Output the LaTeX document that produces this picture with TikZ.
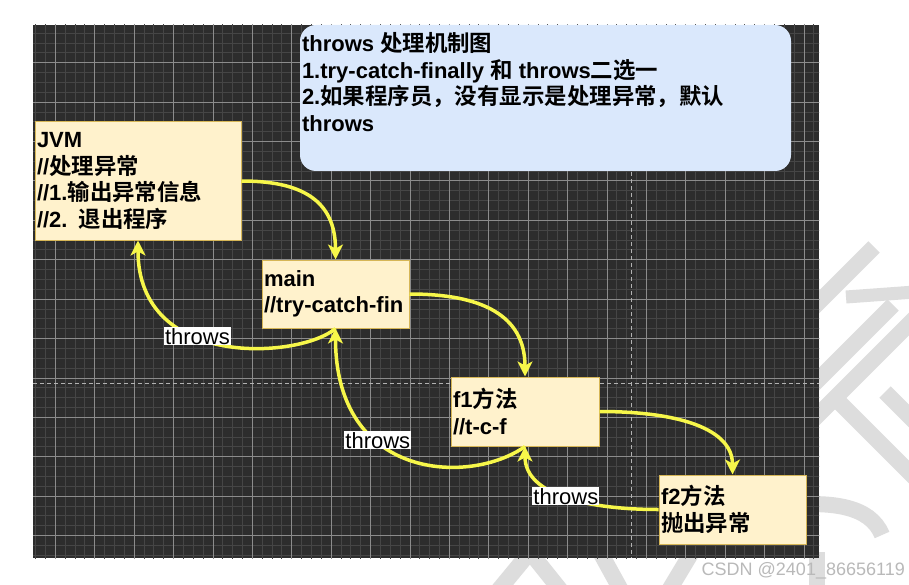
\documentclass[tikz,border=0pt]{standalone}
\usepackage{fontspec}
\setmainfont{Liberation Sans}
\newfontfamily\cjk{Noto Sans CJK SC}[BoldFont={Noto Sans CJK SC Bold},Scale=1.02]
\usetikzlibrary{arrows.meta,positioning,backgrounds}
\definecolor{boardbg}{HTML}{2D2D2D}
\definecolor{gridminor}{HTML}{464646}
\definecolor{gridmajor}{HTML}{8C8C8C}
\definecolor{notefill}{HTML}{DAE8FC}
\definecolor{boxfill}{HTML}{FFF2CC}
\definecolor{boxline}{HTML}{D6B656}
\definecolor{flowline}{HTML}{F7F74A}
\definecolor{wmark}{HTML}{DDDDDD}

\begin{document}
\begin{tikzpicture}[x=1pt,y=1pt,
    box/.style={draw=boxline,fill=boxfill,line width=1pt,align=left,inner xsep=2pt,inner ysep=0pt,
        font=\fontsize{22}{26.5}\selectfont\bfseries},
    note/.style={fill=notefill,rounded corners=16pt,minimum width=491pt,minimum height=146pt,inner sep=0pt},
    notetxt/.style={align=left,inner sep=0pt,font=\fontsize{22}{26.5}\selectfont\bfseries},
    flow/.style={flowline,line width=3.5pt,-{Stealth[length=15pt,width=15pt,inset=4pt]}},
    lbl/.style={fill=white,text=black,inner sep=1pt,font=\fontsize{22}{24}\selectfont},
    wm/.style={wmark,line width=16pt},
    pagebreak/.style={gray!60,line width=1pt,dash pattern=on 4pt off 3pt}]
    \useasboundingbox (0,0) rectangle (909,-585);
    \fill[white] (0,0) rectangle (909,-585);
    % watermark behind the board
    \draw[wm] (874,-247) -- (790,-331);
    \draw[wm,line width=13pt] (846,-297) -- (915,-292);
    \draw[wm] (893,-305) -- (790,-408);
    \draw[wm] (915,-318) -- (790,-443);
    \draw[wm] (835,-398) -- (915,-478);
    \draw[wm] (885,-392) -- (915,-422);
    \draw[wm] (790,-505) .. controls (830,-502) and (870,-505) .. (882,-535);
    \draw[wm] (497,-592) -- (530,-552) -- (562,-592);
    \draw[wm] (600,-552) -- (622,-592);
    \draw[wm] (692,-552) -- (668,-592);
    \draw[wm] (817,-552) -- (817,-592);
    % board and grid
    \fill[boardbg] (33,-25) rectangle (819,-558);
    \begin{scope}
        \clip (33,-25) rectangle (819,-558);
        \draw[gridminor,line width=0.8pt,shift={(55.3,-62.7)},step=9.85] (-40,50) grid (780,-510);
        \draw[gridmajor,line width=0.8pt,shift={(55.3,-62.7)},step=39.4] (-40,50) grid (780,-510);
        \draw[pagebreak] (33,-383) -- (819,-383);
        \draw[pagebreak] (631,-25) -- (631,-558);
    \end{scope}

    \node[note] (note) at (545.5,-98) {};
    \node[notetxt,anchor=north west] (notetext) at ([xshift=2pt,yshift=-7.5pt]note.north west)
        {throws {\cjk 处理机制图}\\1.try-catch-finally {\cjk 和} throws{\cjk 二选一}\\2.{\cjk 如果程序员，没有显示是处理异常，默认}\\throws};

    \node[box,text width=202pt,minimum height=118pt] (jvm) at (138,-181)
        {JVM\\//{\cjk 处理异常}\\//1.{\cjk 输出异常信息}\\//2. {\cjk 退出程序}};
    \node[box,text width=143pt,minimum height=68pt] (main) at (335.5,-294) {main\\//try-catch-fin};
    \node[box,text width=144pt,minimum height=69pt] (f1) at (525,-411.5) {f1{\cjk 方法}\\//t-c-f};
    \node[box,text width=143pt,minimum height=69pt] (f2) at (732.5,-509.5) {f2{\cjk 方法}\\{\cjk 抛出异常}};

    \draw[flow] (jvm.east) .. controls +(59,0) and +(0,60) .. (main.north);
    \draw[flow] (main.east) .. controls +(71,0) and +(0,62) .. (f1.north);
    \draw[flow] (f1.east) .. controls +(81,0) and +(0,45) .. (f2.north);

    \draw[flow] (main.south) .. controls +(-35,-30) and +(0,-130) .. (jvm.south) node[lbl,pos=0.6] (t1) {throws};
    \draw[flow] (f1.south) .. controls +(-55,-39) and +(0,-152) .. (main.south) node[lbl,pos=0.64] (t2) {throws};
    \draw[flow] (f2.west) .. controls +(-69,0) and +(0,-49) .. (f1.south) node[lbl,pos=0.5] (t3) {throws};

    \node[anchor=south east,text=gray!55,inner sep=0pt,font=\fontsize{18}{20}\selectfont] (csdn) at (905,-579) {CSDN @2401\_86656119};
\end{tikzpicture}
\end{document}
